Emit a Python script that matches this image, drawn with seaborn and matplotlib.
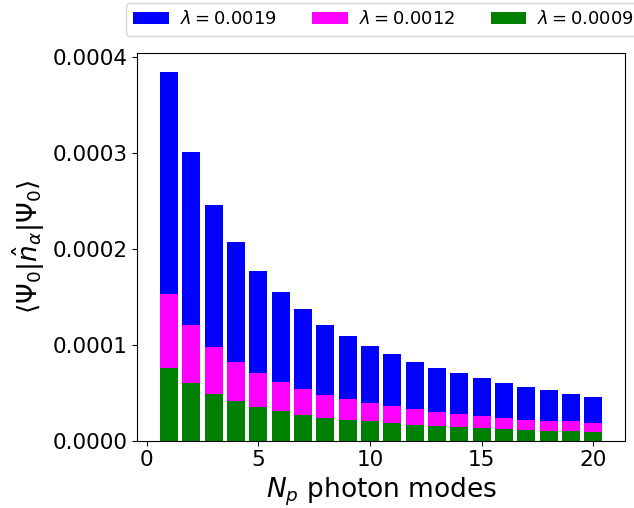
import matplotlib
matplotlib.use("Agg")
import matplotlib.pyplot as plt
import numpy as np
import pandas as pd
import seaborn as sns

# Number of photon modes
n_modes = list(range(1, 21))

# Mean photon occupation per mode for three coupling strengths
occ_l0019 = [3.84e-4, 3.01e-4, 2.46e-4, 2.07e-4, 1.77e-4, 1.55e-4, 1.37e-4, 1.21e-4,
             1.09e-4, 0.99e-4, 0.90e-4, 0.82e-4, 0.76e-4, 0.70e-4, 0.65e-4, 0.60e-4,
             0.56e-4, 0.53e-4, 0.49e-4, 0.46e-4]
occ_l0012 = [1.53e-4, 1.20e-4, 0.98e-4, 0.82e-4, 0.70e-4, 0.61e-4, 0.54e-4, 0.48e-4,
             0.43e-4, 0.39e-4, 0.36e-4, 0.33e-4, 0.30e-4, 0.28e-4, 0.26e-4, 0.24e-4,
             0.22e-4, 0.21e-4, 0.20e-4, 0.18e-4]
occ_l0009 = [0.76e-4, 0.60e-4, 0.49e-4, 0.41e-4, 0.35e-4, 0.31e-4, 0.27e-4, 0.24e-4,
             0.22e-4, 0.20e-4, 0.18e-4, 0.16e-4, 0.15e-4, 0.14e-4, 0.13e-4, 0.12e-4,
             0.11e-4, 0.10e-4, 0.10e-4, 0.09e-4]

series = [
    (r"$\lambda = 0.0019$", occ_l0019, "blue"),
    (r"$\lambda = 0.0012$", occ_l0012, "magenta"),
    (r"$\lambda = 0.0009$", occ_l0009, "green"),
]

fig = plt.figure(figsize=(6.34, 5.08), dpi=100)
ax = fig.add_axes([0.2166, 0.1325, 0.7692, 0.7635])

for label, vals, color in series:
    df = pd.DataFrame({"N": n_modes, "occ": vals})
    sns.barplot(data=df, x="N", y="occ", color=color, native_scale=True,
                width=0.8, linewidth=0, saturation=1, label=label, ax=ax,
                errorbar=None)

ax.set_xlim(-0.42, 21.42)
ax.set_ylim(0, 4.04e-4)
ax.set_xticks([0, 5, 10, 15, 20])
ax.set_yticks([0, 1e-4, 2e-4, 3e-4, 4e-4])
ax.set_yticklabels(["0.0000", "0.0001", "0.0002", "0.0003", "0.0004"])
ax.tick_params(labelsize=15.5)
ax.set_xlabel(r"$N_p$ photon modes", fontsize=19)
ax.set_ylabel(r"$\langle \Psi_0|\hat{n}_\alpha|\Psi_0\rangle$", fontsize=19)

ax.legend(loc="upper left", bbox_to_anchor=(126 / 634, 1 - 3.3 / 508),
          bbox_transform=fig.transFigure, ncol=3, fontsize=12.9,
          handletextpad=0.6, columnspacing=2.0,
          frameon=True, borderaxespad=0)

fig.savefig("out.png", dpi=100)
